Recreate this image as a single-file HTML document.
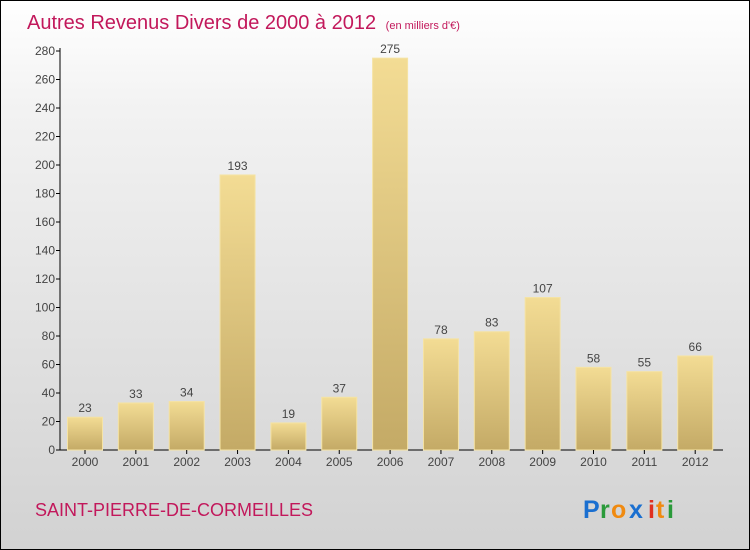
<!DOCTYPE html>
<html><head><meta charset="utf-8"><style>
html,body{margin:0;padding:0;}
body{width:750px;height:550px;overflow:hidden;font-family:"Liberation Sans",sans-serif;}
#wrap{position:relative;width:748px;height:548px;border:1px solid #000;background:linear-gradient(#ffffff,#f2f2f2 20%,#d2d2d2 100%);}
svg{position:absolute;left:0;top:0;}
</style></head><body>
<div id="wrap">
<svg id="chart" width="748" height="548">
<defs>
<linearGradient id="bg" x1="0" y1="0" x2="0" y2="1"><stop offset="0" stop-color="#f3dc94"/><stop offset="1" stop-color="#c4aa66"/></linearGradient>
</defs>
<text x="26" y="28" font-size="20" fill="#c2185b">Autres Revenus Divers de 2000 à 2012 <tspan font-size="11" dx="4">(en milliers d'€)</tspan></text>
<text x="34" y="515" font-size="18" fill="#c2185b">SAINT-PIERRE-DE-CORMEILLES</text>
<g font-size="25" font-weight="bold">
<text x="582" y="517" fill="#1a6fd0">P</text><text x="599" y="517" fill="#2a9a3a">r</text><text x="610" y="517" fill="#f08a10">o</text><text x="628" y="517" fill="#1a6fd0">x</text><text x="647" y="517" fill="#e03020">i</text><text x="655" y="517" fill="#f08a10">t</text><text x="666" y="517" fill="#2a9a3a">i</text>
</g>
</svg>
</div>
<script>
const categories=["2000","2001","2002","2003","2004","2005","2006","2007","2008","2009","2010","2011","2012"];
const values=[23,33,34,193,19,37,275,78,83,107,58,55,66];
const yTicks=[0,20,40,60,80,100,120,140,160,180,200,220,240,260,280];
const svg=document.getElementById('chart');
const NS="http://www.w3.org/2000/svg";
const y0=449,yTop=50,maxV=280,x0=59,firstC=84,step=50.85,bw=35;
const yS=v=>y0-(v/maxV)*(y0-yTop);
const xS=i=>firstC+i*step;
function mk(t,a){const e=document.createElementNS(NS,t);for(const k in a)e.setAttribute(k,a[k]);svg.appendChild(e);return e;}
let ax=mk('line',{x1:x0,y1:yTop-3,x2:x0,y2:y0,stroke:'#000'});


let bx=mk('line',{x1:x0,y1:y0,x2:722,y2:y0,stroke:'#000'});


yTicks.forEach(v=>{
 const y=yS(v);
 mk('line',{x1:x0-4,y1:y,x2:x0,y2:y,stroke:'#000'});
 const t=mk('text',{x:x0-5,y:y+4,'font-size':12,fill:'#444','text-anchor':'end'});
 t.textContent=v;
 
 
});
values.forEach((v,i)=>{
 const c=xS(i);
 const r=mk('rect',{x:c-bw/2,y:yS(v),width:bw,height:y0-yS(v),fill:'url(#bg)',stroke:'#f5e3a4','stroke-width':1});
 
 
 const l=mk('text',{x:c,y:yS(v)-5,'font-size':12,fill:'#444','text-anchor':'middle'});
 l.textContent=v;
 
 
 mk('line',{x1:c,y1:y0,x2:c,y2:y0+4,stroke:'#000'});
 const xl=mk('text',{x:c,y:y0+16,'font-size':12,fill:'#444','text-anchor':'middle'});
 xl.textContent=categories[i];
 
 
});
</script>
</body></html>
